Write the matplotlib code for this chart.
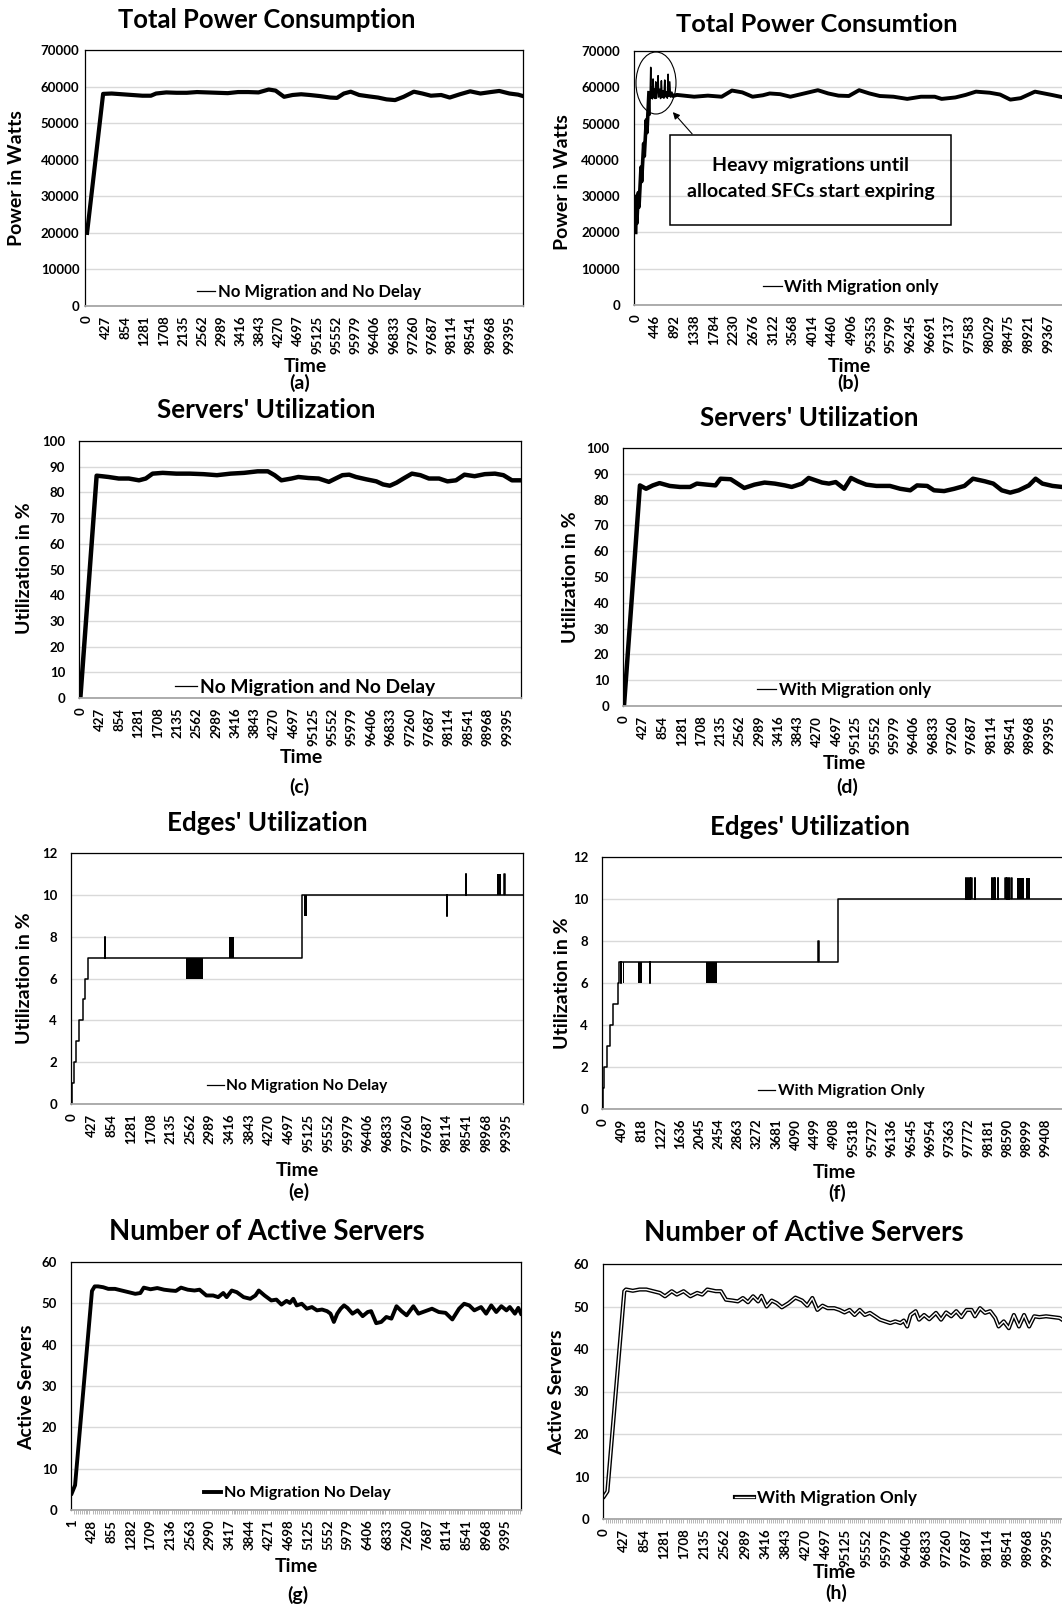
import numpy as np
import matplotlib
matplotlib.use("Agg")
import matplotlib.pyplot as plt
from matplotlib.patches import Ellipse, Rectangle, FancyArrowPatch
from matplotlib.lines import Line2D
import matplotlib.patheffects as pe

plt.rcParams['font.family'] = ['Lato', 'DejaVu Sans']
plt.rcParams['font.weight'] = 'bold'

W, H = 1062, 1607
fig = plt.figure(figsize=(W / 100, H / 100), dpi=100)
fig.patch.set_facecolor('white')

# ---------------- category labels (every n-th sample is labelled) ----------------
LABELS_427 = ['0', '427', '854', '1281', '1708', '2135', '2562', '2989', '3416', '3843',
              '4270', '4697', '95125', '95552', '95979', '96406', '96833', '97260',
              '97687', '98114', '98541', '98968', '99395']
LABELS_446 = ['0', '446', '892', '1338', '1784', '2230', '2676', '3122', '3568', '4014',
              '4460', '4906', '95353', '95799', '96245', '96691', '97137', '97583',
              '98029', '98475', '98921', '99367']
LABELS_409 = ['0', '409', '818', '1227', '1636', '2045', '2454', '2863', '3272', '3681',
              '4090', '4499', '4908', '95318', '95727', '96136', '96545', '96954',
              '97363', '97772', '98181', '98590', '98999', '99408']
LABELS_G = ['1', '428', '855', '1282', '1709', '2136', '2563', '2990', '3417', '3844',
            '4271', '4698', '5125', '5552', '5979', '6406', '6833', '7260', '7687',
            '8114', '8541', '8968', '9395']

# ---------------- (a) total power, no migration ----------------
A_X = [0, 357, 547, 775, 1003, 1231, 1421, 1535, 1763, 1991, 2219, 2446, 2674, 2902,
       3130, 3358, 3586, 3814, 4042, 4194, 4384, 4574, 4764, 4954, 5182, 5410, 5562,
       5714, 5866, 6055, 6283, 6473, 6663, 6853, 7043, 7271, 7461, 7651, 7879, 8069,
       8297, 8525, 8753, 8981, 9171, 9399, 9589, 9700]
A_Y = [20000, 58000, 58100, 57900, 57700, 57500, 57500, 58100, 58400, 58300, 58300,
       58500, 58400, 58300, 58200, 58500, 58500, 58400, 59200, 58900, 57200, 57700,
       57900, 57700, 57400, 57000, 56900, 58100, 58600, 57700, 57300, 57000, 56500,
       56300, 57200, 58600, 58100, 57500, 57700, 57000, 57900, 58700, 58100, 58500,
       58800, 58100, 57800, 57400]

# ---------------- (b) total power, with migration ----------------
B_X = [0, 12, 25, 60, 75, 120, 135, 180, 195, 240, 255, 300, 318, 330, 341, 352, 365,
       380, 394, 408, 425, 440, 455, 470, 490, 508, 522, 545, 565, 583, 600, 620, 640,
       659, 675, 700, 718, 735, 750, 773, 790, 810, 840, 937, 1327, 1639, 1952, 2186,
       2420, 2654, 2888, 3044, 3279, 3513, 3825, 4137, 4372, 4606, 4840, 5074, 5308,
       5543, 5855, 6167, 6479, 6792, 6948, 7260, 7494, 7728, 8041, 8275, 8509, 8743,
       9068, 9446, 9682, 10320]
B_Y = [20000, 30000, 22500, 31000, 27000, 38000, 34000, 44500, 41000, 51000, 47500,
       58500, 52300, 59000, 65500, 57000, 60000, 56800, 62300, 57200, 59500, 56900,
       61500, 57000, 59000, 63200, 57300, 59500, 56900, 61800, 57200, 59000, 57000,
       62000, 57400, 58800, 57000, 63600, 57500, 61500, 57300, 58200, 57600, 57900,
       57400, 57700, 57400, 59100, 58600, 57400, 57800, 58300, 58100, 57400, 58300,
       59200, 58300, 57700, 57600, 59200, 58300, 57600, 57400, 56800, 57400, 57400,
       56800, 57200, 57900, 58800, 58500, 58000, 56600, 57000, 58800, 57900, 57300,
       57400]
B_SPIKES_FROM = 300    # sample index where the migration spikes start
B_SETTLED_FROM = 810   # sample index after which the migration spikes die out

# ---------------- (c) servers' utilization, no migration ----------------
C_X = [0, 358, 470, 619, 843, 1067, 1291, 1440, 1590, 1813, 2112, 2410, 2709, 3007,
       3306, 3604, 3903, 4127, 4276, 4425, 4649, 4799, 5022, 5246, 5470, 5619, 5769,
       5918, 6067, 6291, 6515, 6664, 6813, 6963, 7112, 7299, 7485, 7672, 7896, 8082,
       8269, 8455, 8679, 8903, 9127, 9313, 9500, 9700]
C_Y = [0, 86.5, 86.3, 86.0, 85.4, 85.4, 84.7, 85.4, 87.3, 87.6, 87.3, 87.3, 87.1, 86.7,
       87.3, 87.6, 88.2, 88.2, 86.7, 84.7, 85.4, 86.0, 85.6, 85.4, 84.1, 85.4, 86.7,
       86.9, 86.0, 85.1, 84.3, 83.1, 82.6, 83.8, 85.4, 87.3, 86.7, 85.4, 85.4, 84.3,
       84.7, 86.9, 86.3, 87.1, 87.3, 86.7, 84.7, 84.7]

# ---------------- (d) servers' utilization, with migration ----------------
D_X = [0, 352, 487, 636, 786, 1010, 1235, 1460, 1609, 1834, 2021, 2133, 2358, 2508,
       2657, 2882, 3106, 3331, 3555, 3705, 3930, 4079, 4229, 4379, 4528, 4678, 4865,
       5015, 5165, 5352, 5576, 5876, 6101, 6325, 6475, 6699, 6849, 7073, 7298, 7522,
       7710, 7972, 8159, 8346, 8533, 8720, 8945, 9094, 9244, 9469, 9678, 10300]
D_Y = [0, 85.5, 84.2, 85.5, 86.4, 85.3, 84.9, 84.9, 86.2, 85.8, 85.5, 88.1, 87.9, 86.2,
       84.5, 85.8, 86.6, 86.2, 85.5, 84.9, 86.2, 88.4, 87.5, 86.6, 86.2, 86.8, 84.2,
       88.4, 87.1, 85.8, 85.3, 85.3, 84.2, 83.6, 85.5, 85.3, 83.6, 83.3, 84.2, 85.3,
       88.1, 87.1, 86.2, 83.6, 82.7, 83.6, 85.5, 88.1, 86.2, 85.3, 84.9, 85.0]

# ---------------- (e) edges' utilization, no migration (step levels) ----------------
E_LEVEL_X = [0, 10, 44, 95, 161, 242, 293, 351, 4980]
E_LEVEL_Y = [0, 1, 2, 3, 4, 5, 6, 7, 10]
E_SPIKE_X = [717, 8111, 8514, 9356]
E_SPIKE_Y = [8, 9, 11, 11]
E_FLICKER_START = [2474, 3404, 5022, 9195]
E_FLICKER_END = [2840, 3499, 5080, 9283]
E_FLICKER_LOW = [6, 7, 9, 10]
E_FLICKER_HIGH = [7, 8, 10, 11]

# ---------------- (f) edges' utilization, with migration ----------------
F_LEVEL_X = [0, 8, 29, 94, 151, 216, 309, 345, 5000]
F_LEVEL_Y = [0, 1, 2, 3, 4, 5, 6, 7, 10]
F_SPIKE_X = [381, 993, 4576, 7705, 7755, 7791, 7827, 7899, 8259, 8295, 8331, 8381,
             8547, 8583, 8619, 8676]
F_SPIKE_Y = [6, 6, 8, 11, 11, 11, 11, 11, 11, 11, 11, 11, 11, 11, 11, 11]
F_FLICKER_START = [417, 748, 2194, 8799, 8978]
F_FLICKER_END = [439, 827, 2417, 8942, 9065]
F_FLICKER_LOW = [6, 6, 6, 10, 10]
F_FLICKER_HIGH = [7, 7, 7, 11, 11]

# ---------------- (g) active servers, no migration ----------------
G_X = [0, 73, 439, 498, 571, 681, 791, 937, 1083, 1230, 1376, 1486, 1559, 1706, 1852,
       1999, 2145, 2255, 2365, 2511, 2657, 2767, 2914, 3060, 3170, 3280, 3353, 3463,
       3572, 3719, 3865, 3975, 4048, 4173, 4319, 4429, 4539, 4649, 4722, 4795, 4868,
       4978, 5088, 5198, 5307, 5417, 5527, 5600, 5673, 5746, 5820, 5893, 5966, 6076,
       6186, 6296, 6405, 6479, 6589, 6698, 6808, 6918, 7028, 7137, 7247, 7394, 7503,
       7650, 7796, 7943, 8090, 8236, 8382, 8492, 8602, 8712, 8858, 8968, 9078, 9187,
       9297, 9407, 9480, 9590, 9663, 9722]
G_Y = [4, 6, 53, 54.1, 54.1, 53.9, 53.5, 53.5, 53.1, 52.7, 52.3, 52.5, 53.8, 53.4, 53.7,
       53.3, 53.1, 53.0, 53.8, 53.3, 53.1, 53.3, 51.9, 51.9, 51.5, 52.5, 51.5, 53.1,
       52.7, 51.5, 51.1, 51.9, 53.1, 51.9, 50.7, 50.9, 49.7, 50.6, 50.1, 51.1, 49.5,
       49.9, 48.7, 49.1, 48.3, 48.5, 48.1, 47.5, 45.5, 47.5, 48.7, 49.5, 48.9, 47.5,
       48.3, 46.9, 47.9, 48.1, 45.2, 45.5, 46.7, 46.3, 49.3, 48.1, 47.1, 49.3, 47.5,
       48.1, 48.7, 47.9, 47.7, 46.1, 48.7, 49.9, 49.5, 48.3, 49.1, 47.5, 49.5, 47.9,
       49.3, 48.3, 49.1, 47.5, 48.9, 47.5]

# ---------------- (h) active servers, with migration ----------------
H_X = [0, 72, 430, 466, 610, 753, 897, 1040, 1184, 1291, 1435, 1542, 1686, 1829, 1973,
       2080, 2188, 2367, 2475, 2583, 2726, 2834, 2941, 3049, 3157, 3264, 3336, 3443,
       3551, 3659, 3766, 3910, 4053, 4196, 4304, 4412, 4519, 4627, 4735, 4878, 4986,
       5093, 5201, 5308, 5416, 5524, 5631, 5739, 5846, 5954, 6062, 6169, 6277, 6349,
       6420, 6492, 6600, 6672, 6779, 6887, 7030, 7138, 7245, 7353, 7460, 7568, 7676,
       7783, 7855, 7963, 8070, 8178, 8286, 8357, 8465, 8573, 8680, 8788, 8896, 9003,
       9111, 9218, 9362, 9505, 9648, 9756, 9885, 10300]
H_Y = [5.3, 6.5, 53.6, 54.0, 53.7, 54.0, 54.0, 53.6, 53.2, 52.4, 53.6, 52.8, 53.6, 52.4,
       53.2, 52.8, 54.0, 53.6, 53.6, 51.6, 51.4, 51.2, 52.0, 51.0, 52.4, 51.2, 52.5,
       50.0, 51.4, 50.8, 49.8, 50.8, 52.1, 51.4, 50.2, 52.0, 49.2, 50.2, 49.6, 49.6,
       49.2, 48.6, 49.2, 48.0, 49.2, 48.0, 48.5, 47.7, 46.9, 46.5, 46.1, 46.5, 46.1,
       46.7, 45.3, 48.0, 48.9, 46.9, 48.0, 47.0, 48.5, 46.9, 48.6, 47.7, 48.9, 47.5,
       49.2, 49.2, 47.7, 49.6, 48.5, 48.9, 47.3, 45.3, 46.5, 44.9, 48.0, 45.3, 48.0,
       45.3, 47.7, 47.5, 47.7, 47.5, 47.3, 46.5, 46.3, 46.0]

# ---------------- styling ----------------
AXLAB_FS = 14
PANEL_FS = 14
YT_FS = 9.5
XT_FS = 9.5
BOX_FS = 14


def fx(x):
    return x / W


def fy(y):
    return 1 - y / H


def ftext(x, y, s, size, rotation=0):
    fig.text(fx(x), fy(y), s, fontsize=size, fontweight='bold', ha='center',
             va='center', rotation=rotation, color='black')


def make_axes(box, xlim, ymax, ystep, xlabels, step, ypad):
    left, top, right, bottom = box
    ax = fig.add_axes([fx(left), fy(bottom), (right - left) / W, (bottom - top) / H])
    ax.set_xlim(*xlim)
    ax.set_ylim(0, ymax)
    yt = list(range(0, ymax + 1, ystep))
    ax.set_yticks(yt)
    ax.set_yticklabels([str(v) for v in yt], fontsize=YT_FS, fontweight='bold')
    ax.set_xticks(np.arange(len(xlabels)) * step)
    ax.set_xticklabels(xlabels, rotation=90, fontsize=XT_FS, fontweight='bold')
    ax.tick_params(axis='x', length=0, pad=7)
    ax.tick_params(axis='y', length=0, pad=ypad)
    ax.yaxis.grid(True, color='#d9d9d9', lw=1.0)
    ax.set_axisbelow(True)
    for s in ['left', 'top', 'right']:
        ax.spines[s].set_color('black')
        ax.spines[s].set_linewidth(0.9)
    ax.spines['bottom'].set_color('#a6a6a6')
    ax.spines['bottom'].set_linewidth(1.3)
    return ax


def legend_at(ax, handle, label, x, y, size, hl=1.1):
    ax.legend([handle], [label], loc='center', bbox_to_anchor=(fx(x), fy(y)),
              bbox_transform=fig.transFigure, frameon=False, handlelength=hl,
              handletextpad=0.15, borderpad=0, borderaxespad=0,
              prop={'weight': 'bold', 'size': size})


def step_points(lx, ly, sx, sy, end, w=5):
    pts = list(zip(lx, ly))
    for x, v in zip(sx, sy):
        i = np.searchsorted(lx, x, side='right') - 1
        pts += [(x, v), (x + w, ly[i])]
    pts.sort()
    pts.append((end, pts[-1][1]))
    xs, ys = zip(*pts)
    return xs, ys


thin = Line2D([], [], color='black', lw=0.9)

# (a)
ax = make_axes((85, 50, 523, 306), (-46, 9700), 70000, 10000, LABELS_427, 427, 4)
ax.plot(A_X, A_Y, color='black', lw=3.0, solid_joinstyle='round')
legend_at(ax, thin, 'No Migration and No Delay', 309, 292, 12)
ftext(267, 20, 'Total Power Consumption', 18.4)
ftext(17, 178, 'Power in Watts', AXLAB_FS, rotation=90)
ftext(305, 366, 'Time', AXLAB_FS)
ftext(300, 383, '(a)', PANEL_FS)

# (b): thick ramp, thin spiky migration phase, thick settled phase
ax = make_axes((634, 51, 1090, 305), (-39, 10318), 70000, 10000, LABELS_446, 446, 10)
k1 = B_X.index(B_SPIKES_FROM)
k2 = B_X.index(B_SETTLED_FROM)
ax.plot(B_X[:k1 + 1], B_Y[:k1 + 1], color='black', lw=2.6, solid_joinstyle='round')
ax.plot(B_X[k1:k2 + 1], B_Y[k1:k2 + 1], color='black', lw=1.1, solid_joinstyle='round')
ax.plot(B_X[k2:], B_Y[k2:], color='black', lw=2.8, solid_joinstyle='round')
legend_at(ax, thin, 'With Migration only', 851, 287, 12.3)
ftext(817, 25, 'Total Power Consumtion', 18.3)
ftext(563, 182, 'Power in Watts', AXLAB_FS, rotation=90)
ftext(849, 366, 'Time', AXLAB_FS)
ftext(848, 383, '(b)', PANEL_FS)
fig.add_artist(Rectangle((fx(670), fy(225)), (951 - 670) / W, (225 - 135) / H,
                         transform=fig.transFigure, fill=False, ec='black', lw=1.1))
ftext(811, 166, 'Heavy migrations until', BOX_FS)
ftext(811, 192, 'allocated SFCs start expiring', BOX_FS)
fig.add_artist(Ellipse((fx(656), fy(83)), 40 / W, 62 / H, transform=fig.transFigure,
                       fill=False, ec='black', lw=0.8))
fig.add_artist(FancyArrowPatch((fx(694), fy(136)), (fx(671), fy(110)),
                               transform=fig.transFigure, arrowstyle='-|>',
                               mutation_scale=10, color='black', lw=0.8))

# (c)
ax = make_axes((79, 441, 521, 698), (-30, 9700), 100, 10, LABELS_427, 427, 10)
ax.plot(C_X, C_Y, color='black', lw=3.2, solid_joinstyle='round')
legend_at(ax, thin, 'No Migration and No Delay', 305, 687, 13.9)
ftext(266, 410, "Servers' Utilization", 18.7)
ftext(25, 568, 'Utilization in %', AXLAB_FS, rotation=90)
ftext(301, 757, 'Time', AXLAB_FS)
ftext(299, 787, '(c)', PANEL_FS)

# (d)
ax = make_axes((623, 448, 1090, 706), (-22, 10296), 100, 10, LABELS_427, 427, 10)
ax.plot(D_X, D_Y, color='black', lw=3.2, solid_joinstyle='round')
legend_at(ax, thin, 'With Migration only', 844, 690, 12.2)
ftext(809, 418, "Servers' Utilization", 18.7)
ftext(570, 577, 'Utilization in %', AXLAB_FS, rotation=90)
ftext(844, 763, 'Time', AXLAB_FS)
ftext(847, 787, '(d)', PANEL_FS)

# (e)
ax = make_axes((71, 853, 523, 1104), (-15, 9757), 12, 2, LABELS_427, 427, 10)
xs, ys = step_points(E_LEVEL_X, E_LEVEL_Y, E_SPIKE_X, E_SPIKE_Y, 9757)
ax.step(xs, ys, where='post', color='black', lw=1.1)
for s, e, lo, hi in zip(E_FLICKER_START, E_FLICKER_END, E_FLICKER_LOW, E_FLICKER_HIGH):
    ax.fill_between([s, e], lo, hi, color='black', lw=0)
legend_at(ax, thin, 'No Migration No Delay', 297, 1086, 11.2)
ftext(267, 823, "Edges' Utilization", 18.7)
ftext(25, 978, 'Utilization in %', AXLAB_FS, rotation=90)
ftext(297, 1170, 'Time', AXLAB_FS)
ftext(299, 1192, '(e)', PANEL_FS)

# (f)
ax = make_axes((602, 857, 1090, 1109), (-21, 10344), 12, 2, LABELS_409, 409, 10)
xs, ys = step_points(F_LEVEL_X, F_LEVEL_Y, F_SPIKE_X, F_SPIKE_Y, 10344)
ax.step(xs, ys, where='post', color='black', lw=1.1)
for s, e, lo, hi in zip(F_FLICKER_START, F_FLICKER_END, F_FLICKER_LOW, F_FLICKER_HIGH):
    ax.fill_between([s, e], lo, hi, color='black', lw=0)
legend_at(ax, thin, 'With Migration Only', 841, 1091, 11.4)
ftext(810, 827, "Edges' Utilization", 18.6)
ftext(562, 983, 'Utilization in %', AXLAB_FS, rotation=90)
ftext(834, 1172, 'Time', AXLAB_FS)
ftext(837, 1193, '(f)', PANEL_FS)

# (g)
ax = make_axes((71, 1262, 521, 1510), (-15, 9722), 60, 10, LABELS_G, 427, 10)
ax.set_xticks(np.arange(0, 9722, 42.7), minor=True)
ax.tick_params(axis='x', which='minor', length=3, color='#b5b5b5', width=0.7)
ax.plot(G_X, G_Y, color='black', lw=2.8, solid_joinstyle='round')
legend_at(ax, Line2D([], [], color='black', lw=2.8), 'No Migration No Delay',
          297, 1493, 11.6)
ftext(267, 1232, 'Number of Active Servers', 19.8)
ftext(27, 1387, 'Active Servers', AXLAB_FS, rotation=90)
ftext(296, 1567, 'Time', AXLAB_FS)
ftext(298, 1595, '(g)', PANEL_FS)

# (h)
ax = make_axes((603, 1264, 1090, 1519), (-21, 10292), 60, 10, LABELS_427, 427, 10)
ax.set_xticks(np.arange(0, 10292, 42.7), minor=True)
ax.tick_params(axis='x', which='minor', length=3, color='#b5b5b5', width=0.7)
double = [pe.Stroke(linewidth=3.0, foreground='black'), pe.Normal()]
ax.plot(H_X, H_Y, color='white', lw=1.0, solid_joinstyle='round', path_effects=double)
legend_at(ax, Line2D([], [], color='white', lw=1.0, path_effects=double),
          'With Migration Only', 826, 1498, 12.4)
ftext(804, 1233, 'Number of Active Servers', 20.0)
ftext(557, 1392, 'Active Servers', AXLAB_FS, rotation=90)
ftext(834, 1572, 'Time', AXLAB_FS)
ftext(836, 1593, '(h)', PANEL_FS)

fig.savefig('out.png', dpi=100, facecolor='white')
